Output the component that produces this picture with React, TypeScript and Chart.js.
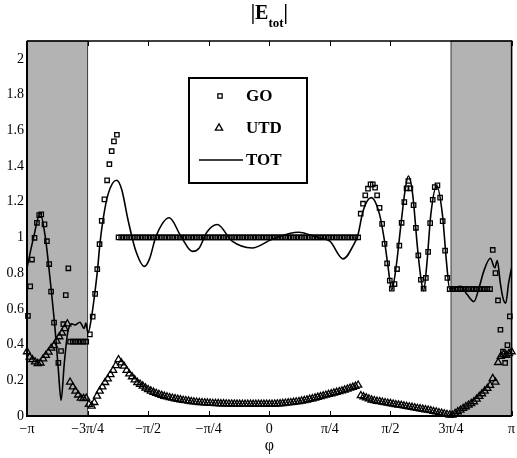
import React, { useEffect, useRef } from 'react';
import { Chart, registerables } from 'chart.js';

Chart.register(...registerables);

// ---------- data (phi in degrees, value = |E|) ----------
const xTickValues = [-180, -135, -90, -45, 0, 45, 90, 135, 180];
const xTickLabels = ['\u2212\u03c0', '\u22123\u03c0/4', '\u2212\u03c0/2', '\u2212\u03c0/4', '0', '\u03c0/4', '\u03c0/2', '3\u03c0/4', '\u03c0'];
const yTickValues = [0, 0.2, 0.4, 0.6, 0.8, 1, 1.2, 1.4, 1.6, 1.8, 2];
const yTickLabels = ['0', '0.2', '0.4', '0.6', '0.8', '1', '1.2', '1.4', '1.6', '1.8', '2'];
const shadedBands = [[-180, -135], [135, 180]];
const seriesLabels = ['GO', 'UTD', 'TOT'];

const goPhi = [
  -179.3, -177.6, -176.3, -174.4, -172.6, -170.9, -169.4, -167.0, -165.2, -163.5, -162.1, -159.9, -156.7, -154.7, -153.0, -151.2, -149.3,
  -148, -146, -144, -142, -140, -138, -136,
  -133.3, -131.2, -129.4, -127.8, -126.1, -124.5, -122.5, -120.5, -118.8, -117.1, -115.4, -113.2,
  -112, -110, -108, -106, -104, -102, -100, -98, -96, -94,
  -92, -90, -88, -86, -84, -82, -80, -78, -76, -74,
  -72, -70, -68, -66, -64, -62, -60, -58, -56, -54,
  -52, -50, -48, -46, -44, -42, -40, -38, -36, -34,
  -32, -30, -28, -26, -24, -22, -20, -18, -16, -14,
  -12, -10, -8, -6, -4, -2, 0, 2, 4, 6,
  8, 10, 12, 14, 16, 18, 20, 22, 24, 26,
  28, 30, 32, 34, 36, 38, 40, 42, 44, 46,
  48, 50, 52, 54, 56, 58, 60, 62, 64, 66,
  67.9, 69.6, 71.3, 73.3, 75.2, 76.9, 78.6, 80.1, 81.9, 83.8,
  85.6, 87.5, 89.5, 91.0, 93.0, 94.9, 96.6, 98.3, 100.3, 102.0,
  103.3, 104.8, 107.2, 108.9, 110.7, 112.6, 114.6, 116.3, 118.0, 119.5,
  121.4, 122.9, 124.9, 126.9, 128.8, 130.6, 132.3,
  134, 136, 138, 140, 142, 144, 146, 148, 150, 152, 154, 156, 158, 160, 162, 164,
  166.0, 168.0, 169.9, 171.7, 173.6, 175.2, 176.9, 178.7,
];
const goVal = [
  0.561, 0.726, 0.876, 0.998, 1.082, 1.125, 1.129, 1.073, 0.979, 0.851, 0.697, 0.523, 0.298, 0.364, 0.514, 0.677, 0.827,
  0.416, 0.416, 0.416, 0.416, 0.416, 0.416, 0.416,
  0.457, 0.556, 0.684, 0.822, 0.962, 1.093, 1.213, 1.32, 1.41, 1.483, 1.538, 1.575,
  1, 1, 1, 1, 1, 1, 1, 1, 1, 1,
  1, 1, 1, 1, 1, 1, 1, 1, 1, 1,
  1, 1, 1, 1, 1, 1, 1, 1, 1, 1,
  1, 1, 1, 1, 1, 1, 1, 1, 1, 1,
  1, 1, 1, 1, 1, 1, 1, 1, 1, 1,
  1, 1, 1, 1, 1, 1, 1, 1, 1, 1,
  1, 1, 1, 1, 1, 1, 1, 1, 1, 1,
  1, 1, 1, 1, 1, 1, 1, 1, 1, 1,
  1, 1, 1, 1, 1, 1, 1, 1, 1, 1,
  1.133, 1.189, 1.236, 1.273, 1.297, 1.297, 1.279, 1.236, 1.166, 1.076,
  0.964, 0.855, 0.758, 0.713, 0.739, 0.823, 0.954, 1.082, 1.198, 1.275,
  1.316, 1.275, 1.181, 1.054, 0.90, 0.763, 0.713, 0.773, 0.919, 1.08,
  1.211, 1.282, 1.292, 1.223, 1.091, 0.926, 0.773,
  0.711, 0.711, 0.711, 0.711, 0.711, 0.711, 0.711, 0.711, 0.711, 0.711, 0.711, 0.711, 0.711, 0.711, 0.711, 0.711,
  0.93, 0.80, 0.647, 0.483, 0.36, 0.297, 0.397, 0.558,
];

const utdPhi = [
  -180, -178, -176, -174, -172, -170, -168, -166, -164, -162,
  -160, -158, -156, -154, -152, -150, -148, -146, -144, -142,
  -140, -138, -136, -134, -132, -130, -128, -126, -124, -122,
  -120, -118, -116, -114, -112, -110, -108, -106, -104, -102,
  -100, -98, -96, -94, -92, -90, -88, -86, -84, -82,
  -80, -78, -76, -74, -72, -70, -68, -66, -64, -62,
  -60, -58, -56, -54, -52, -50, -48, -46, -44, -42,
  -40, -38, -36, -34, -32, -30, -28, -26, -24, -22,
  -20, -18, -16, -14, -12, -10, -8, -6, -4, -2,
  0, 2, 4, 6, 8, 10, 12, 14, 16, 18,
  20, 22, 24, 26, 28, 30, 32, 34, 36, 38,
  40, 42, 44, 46, 48, 50, 52, 54, 56, 58,
  60, 62, 64, 66, 68, 70, 72, 74, 76, 78,
  80, 82, 84, 86, 88, 90, 92, 94, 96, 98,
  100, 102, 104, 106, 108, 110, 112, 114, 116, 118,
  120, 122, 124, 126, 128, 130, 132, 134, 136, 138,
  140, 142, 144, 146, 148, 150, 152, 154, 156, 158,
  160, 162, 164, 166, 168, 170, 172, 174, 176, 178,
  180,
];
const utdVal = [
  0.36, 0.33, 0.316, 0.303, 0.294, 0.297, 0.32, 0.34, 0.358, 0.38,
  0.394, 0.42, 0.444, 0.465, 0.49, 0.516, 0.19, 0.163, 0.14, 0.118,
  0.1, 0.098, 0.1, 0.065, 0.056, 0.076, 0.112, 0.14, 0.163, 0.188,
  0.208, 0.232, 0.256, 0.282, 0.316, 0.298, 0.28, 0.256, 0.236, 0.22,
  0.203, 0.188, 0.178, 0.168, 0.157, 0.148, 0.14, 0.133, 0.127, 0.121,
  0.116, 0.111, 0.107, 0.103, 0.1, 0.097, 0.094, 0.091, 0.088, 0.086,
  0.084, 0.081, 0.079, 0.078, 0.076, 0.075, 0.074, 0.073, 0.072, 0.071,
  0.07, 0.07, 0.069, 0.069, 0.068, 0.068, 0.067, 0.067, 0.067, 0.066,
  0.066, 0.066, 0.066, 0.066, 0.066, 0.066, 0.066, 0.066, 0.066, 0.066,
  0.066, 0.066, 0.067, 0.068, 0.069, 0.07, 0.072, 0.074, 0.075, 0.077,
  0.079, 0.081, 0.084, 0.087, 0.09, 0.094, 0.097, 0.101, 0.105, 0.109,
  0.113, 0.117, 0.121, 0.125, 0.129, 0.133, 0.137, 0.141, 0.146, 0.151,
  0.156, 0.161, 0.167, 0.173, 0.114, 0.108, 0.102, 0.096, 0.09, 0.086,
  0.083, 0.081, 0.078, 0.075, 0.072, 0.07, 0.067, 0.064, 0.062, 0.06,
  0.057, 0.054, 0.051, 0.049, 0.046, 0.043, 0.041, 0.038, 0.035, 0.033,
  0.03, 0.026, 0.023, 0.019, 0.016, 0.012, 0.009, 0.006, 0.005, 0.014,
  0.024, 0.033, 0.043, 0.052, 0.061, 0.07, 0.08, 0.095, 0.11, 0.125,
  0.14, 0.155, 0.172, 0.21, 0.19, 0.3, 0.335, 0.345, 0.34, 0.35,
  0.36,
];

const totPhi = [
  -180, -175.1, -170.2, -166.5, -162.8, -159.1, -156.7, -154.7, -152.3, -149.8,
  -146.8, -144.4, -140.7, -137.5, -136.3, -134.6, -132.0, -129.6, -127.6, -125.9,
  -123.5, -119.8, -113.6, -109.7, -105.0, -99.4, -92.7, -89.0, -84.1, -74.3,
  -65.7, -57.1, -52.2, -46.3, -38.7, -27.6, -12.8, 1.7, 21.6, 36.4,
  45.0, 54.8, 63.4, 65.9, 69.6, 75.7, 81.9, 85.6, 88.0, 91.0,
  94.1, 97.8, 100.8, 103.3, 106.5, 110.1, 112.6, 114.6, 117.0, 120.0,
  124.4, 128.6, 131.8, 134.0, 138.2, 142.1, 147.0, 152.0, 155.9, 159.3,
  164.2, 167.5, 169.4, 171.6, 173.6, 175.6, 177.8, 180,
];
const totVal = [
  0.83, 1.0, 1.134, 1.007, 0.763, 0.482, 0.257, 0.088, 0.295, 0.465,
  0.516, 0.51, 0.525, 0.49, 0.52, 0.465, 0.557, 0.69, 0.82, 0.96,
  1.10, 1.241, 1.32, 1.27, 1.10, 0.93, 0.838, 0.88, 1.007, 1.110,
  1.007, 0.922, 0.94, 1.03, 1.072, 0.979, 0.941, 0.988, 1.029, 0.998,
  0.979, 0.88, 0.97, 1.016, 1.147, 1.223, 1.129, 0.979, 0.848, 0.707,
  0.829, 1.073, 1.26, 1.344, 1.241, 0.941, 0.773, 0.701, 0.848, 1.129,
  1.288, 1.129, 0.848, 0.711, 0.72, 0.726, 0.68, 0.641, 0.72, 0.81,
  0.883, 0.83, 0.87, 0.745, 0.66, 0.632, 0.745, 0.83,
];

// ---------- helpers ----------
const FONT = "'Liberation Serif', 'Times New Roman', serif";

function zip(xs: number[], ys: number[]) {
  const n = Math.min(xs.length, ys.length);
  const out: { x: number; y: number }[] = [];
  for (let i = 0; i < n; i++) out.push({ x: xs[i], y: ys[i] });
  return out;
}

function drawSquare(ctx: CanvasRenderingContext2D, x: number, y: number, s: number) {
  ctx.strokeRect(x - s / 2, y - s / 2, s, s);
}
function drawTriangle(ctx: CanvasRenderingContext2D, x: number, y: number, r: number) {
  ctx.beginPath();
  ctx.moveTo(x, y - r);
  ctx.lineTo(x + r * 0.866, y + r * 0.5);
  ctx.lineTo(x - r * 0.866, y + r * 0.5);
  ctx.closePath();
  ctx.stroke();
}

const framePlugin = {
  id: 'frame',
  beforeDatasetsDraw(chart: any) {
    const { ctx, chartArea: a, scales } = chart;
    const xs = scales.x;
    ctx.save();
    ctx.strokeStyle = '#000';
    ctx.lineWidth = 1;
    xTickValues.forEach((v) => {
      const px = Math.round(xs.getPixelForValue(v)) + 0.5;
      ctx.beginPath();
      ctx.moveTo(px, a.bottom);
      ctx.lineTo(px, a.bottom - 5);
      ctx.moveTo(px, a.top);
      ctx.lineTo(px, a.top + 5);
      ctx.stroke();
    });
    shadedBands.forEach(([x0, x1]) => {
      const p0 = xs.getPixelForValue(x0);
      const p1 = xs.getPixelForValue(x1);
      ctx.fillStyle = '#b3b3b3';
      ctx.fillRect(p0, a.top, p1 - p0, a.bottom - a.top);
      ctx.strokeStyle = '#3a3a3a';
      ctx.lineWidth = 1;
      ctx.strokeRect(p0, a.top, p1 - p0, a.bottom - a.top);
    });
    ctx.restore();
  },
  afterDatasetsDraw(chart: any) {
    const { ctx, chartArea: a } = chart;
    ctx.save();
    ctx.strokeStyle = '#000';
    ctx.lineWidth = 2;
    ctx.beginPath();
    ctx.moveTo(a.left, a.top);
    ctx.lineTo(a.left, a.bottom);
    ctx.lineTo(a.right, a.bottom);
    ctx.stroke();
    ctx.lineWidth = 1.5;
    ctx.beginPath();
    ctx.moveTo(a.left, a.top);
    ctx.lineTo(a.right, a.top);
    ctx.lineTo(a.right, a.bottom);
    ctx.stroke();

    // legend box
    const bx = 189, by = 78, bw = 118, bh = 105;
    ctx.fillStyle = '#fff';
    ctx.fillRect(bx, by, bw, bh);
    ctx.lineWidth = 2;
    ctx.strokeRect(bx, by, bw, bh);
    chart.data.datasets.forEach((ds: any, i: number) => {
      const y = by + 18 + i * 32;
      ctx.strokeStyle = '#000';
      if (ds.showLine) {
        ctx.lineWidth = 1.5;
        ctx.beginPath();
        ctx.moveTo(199, y);
        ctx.lineTo(243, y);
        ctx.stroke();
      } else if (ds.pointStyle === 'rect') {
        ctx.lineWidth = 1.3;
        drawSquare(ctx, 220, y, 4.3);
      } else {
        ctx.lineWidth = 1.3;
        drawTriangle(ctx, 219, y, 4.2);
      }
      ctx.fillStyle = '#000';
      ctx.font = `bold 17px ${FONT}`;
      ctx.textBaseline = 'middle';
      ctx.textAlign = 'left';
      ctx.fillText(ds.label, 246, y + 1);
    });

    // title |E_tot|
    const cx = (a.left + a.right) / 2;
    ctx.font = `bold 20px ${FONT}`;
    const wMain = ctx.measureText('|E').width;
    const wBar = ctx.measureText('|').width;
    ctx.font = `bold 13px ${FONT}`;
    const wSub = ctx.measureText('tot').width;
    const x0 = cx - (wMain + wSub + wBar) / 2;
    ctx.textBaseline = 'alphabetic';
    ctx.textAlign = 'left';
    ctx.font = `bold 20px ${FONT}`;
    ctx.fillText('|E', x0, 19);
    ctx.font = `bold 13px ${FONT}`;
    ctx.fillText('tot', x0 + wMain, 27);
    ctx.font = `bold 20px ${FONT}`;
    ctx.fillText('|', x0 + wMain + wSub, 19);
    ctx.restore();
  },
};

export default function App() {
  const ref = useRef<HTMLCanvasElement | null>(null);

  useEffect(() => {
    if (!ref.current) return;
    Chart.defaults.font.family = FONT;
    Chart.defaults.color = '#000';
    const chart = new Chart(ref.current, {
      type: 'scatter',
      data: {
        datasets: [
          {
            label: seriesLabels[0],
            data: zip(goPhi, goVal),
            showLine: false,
            pointStyle: 'rect',
            pointRadius: 3.1,
            pointBorderWidth: 1.3,
            borderColor: '#000',
            backgroundColor: 'rgba(0,0,0,0)',
            clip: false,
          },
          {
            label: seriesLabels[1],
            data: zip(utdPhi, utdVal),
            showLine: false,
            pointStyle: 'triangle',
            pointRadius: 4.1,
            pointBorderWidth: 1.3,
            borderColor: '#000',
            backgroundColor: 'rgba(0,0,0,0)',
            clip: false,
          },
          {
            label: seriesLabels[2],
            data: zip(totPhi, totVal),
            showLine: true,
            pointRadius: 0,
            borderWidth: 1.6,
            borderColor: '#000',
            backgroundColor: 'rgba(0,0,0,0)',
            cubicInterpolationMode: 'monotone',
          },
        ],
      } as any,
      options: {
        animation: false,
        responsive: false,
        devicePixelRatio: 1,
        layout: { padding: { left: 0, right: 2, top: 41, bottom: 0 } },
        plugins: { legend: { display: false }, title: { display: false }, tooltip: { enabled: false } },
        events: [],
        scales: {
          x: {
            type: 'linear',
            min: -180,
            max: 180,
            grid: { display: false, drawTicks: false },
            border: { display: false },
            afterBuildTicks: (s: any) => {
              s.ticks = xTickValues.map((v) => ({ value: v }));
            },
            afterFit: (s: any) => {
              s.height = 42;
              s.paddingLeft = 0;
              s.paddingRight = 0;
            },
            ticks: {
              autoSkip: false,
              maxRotation: 0,
              minRotation: 0,
              padding: 5,
              font: { size: 14, family: FONT },
              color: '#000',
              callback: (_v: any, i: number) => xTickLabels[i],
            },
            title: {
              display: true,
              text: '\u03c6',
              font: { size: 16, family: FONT },
              color: '#000',
              padding: { top: 0, bottom: 2.4 },
            },
          },
          y: {
            type: 'linear',
            min: 0,
            max: 2.1,
            grid: { display: false, drawTicks: false },
            border: { display: false },
            afterBuildTicks: (s: any) => {
              s.ticks = yTickValues.map((v) => ({ value: v }));
            },
            afterFit: (s: any) => {
              s.width = 27;
              s.paddingTop = 0;
              s.paddingBottom = 0;
            },
            ticks: {
              padding: 3,
              font: { size: 14, family: FONT },
              color: '#000',
              callback: (_v: any, i: number) => yTickLabels[i],
            },
          },
        },
      } as any,
      plugins: [framePlugin],
    });
    return () => chart.destroy();
  }, []);

  return (
    <div style={{ position: 'absolute', left: 0, top: 0, width: 517, height: 458, background: '#fff' }}>
      <canvas ref={ref} width={517} height={458} style={{ display: 'block' }} />
    </div>
  );
}
